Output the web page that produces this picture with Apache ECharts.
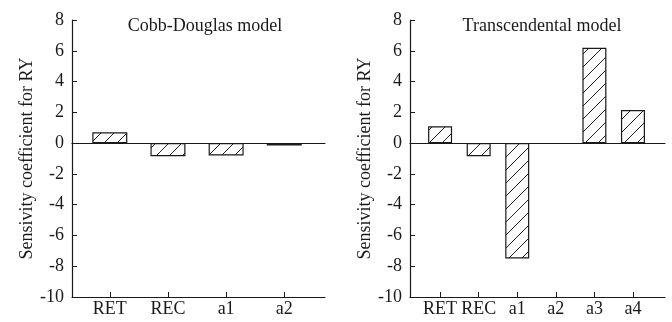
<!DOCTYPE html>
<html><head><meta charset="utf-8">
<script src="https://cdn.jsdelivr.net/npm/echarts@6/dist/echarts.min.js"></script>
<style>html,body{margin:0;padding:0;background:#fff}#c{width:672px;height:322px}</style>
</head><body><div id="c"></div>
<script>
var catsLeft = ['RET', 'REC', 'a1', 'a2'];
var valsLeft = [0.7, -0.85, -0.8, -0.15];
var catsRight = ['RET', 'REC', 'a1', 'a2', 'a3', 'a4'];
var valsRight = [1.1, -0.85, -7.5, -0.05, 6.2, 2.15];
var yTicks = [8, 6, 4, 2, 0, -2, -4, -6, -8, -10];
var titleLeft = 'Cobb-Douglas model';
var titleRight = 'Transcendental model';
var yName = 'Sensivity coefficient for RY';

var FONT = '"Liberation Serif", "DejaVu Serif", serif';
var INK = '#1a1a1a';

function hatch() {
  var s = 13, c = document.createElement('canvas');
  c.width = s; c.height = s;
  var g = c.getContext('2d');
  g.fillStyle = '#fff'; g.fillRect(0, 0, s, s);
  g.strokeStyle = '#222'; g.lineWidth = 1;
  g.beginPath();
  g.moveTo(0, s); g.lineTo(s, 0);
  g.moveTo(-2, 2); g.lineTo(2, -2);
  g.moveTo(s - 2, s + 2); g.lineTo(s + 2, s - 2);
  g.stroke();
  return c;
}
var pat = { image: hatch(), repeat: 'repeat' };

// category positions are 1..n on a value x-axis
function pos(arr) { return arr.map(function (_, i) { return i + 1; }); }

function xAxisFor(gi, cats, mn, mx) {
  return {
    gridIndex: gi, type: 'value', min: mn, max: mx,
    axisLine: { onZero: false, lineStyle: { color: INK, width: 1.2 } },
    axisTick: { inside: true, length: 5, customValues: pos(cats), lineStyle: { color: INK } },
    axisLabel: {
      customValues: pos(cats), color: INK, fontFamily: FONT, fontSize: 18, margin: 3,
      formatter: function (v) { return cats[Math.round(v) - 1]; }
    },
    splitLine: { show: false }
  };
}
// extra x-axis in each grid that lies on y = 0 and draws the zero line
function zeroAxisFor(gi, mn, mx) {
  return {
    gridIndex: gi, type: 'value', min: mn, max: mx, position: 'bottom',
    axisLine: { show: true, onZero: true, lineStyle: { color: INK, width: 1.2 } },
    axisTick: { show: false }, axisLabel: { show: false }, splitLine: { show: false }
  };
}
function yAxisFor(gi) {
  return {
    gridIndex: gi, type: 'value', min: yTicks[yTicks.length - 1], max: yTicks[0], interval: 2,
    name: yName, nameLocation: 'middle', nameGap: 36, nameRotate: 90,
    nameTextStyle: { color: INK, fontFamily: FONT, fontSize: 18 },
    axisLine: { show: true, onZero: false, lineStyle: { color: INK, width: 1.2 } },
    axisTick: { show: true, inside: true, length: 5, lineStyle: { color: INK } },
    axisLabel: { color: INK, fontFamily: FONT, fontSize: 18, margin: 8 },
    splitLine: { show: false }
  };
}
function barSeries(gi, vals, w) {
  return {
    type: 'bar', xAxisIndex: gi, yAxisIndex: gi, barWidth: w,
    data: vals.map(function (v, i) { return [i + 1, v]; }),
    itemStyle: { color: pat, borderColor: INK, borderWidth: 1.2 }
  };
}

var chart = echarts.init(document.getElementById('c'));
chart.setOption({
  backgroundColor: '#fff',
  animation: false,
  title: [
    { text: titleLeft, left: 200, top: 12, textAlign: 'center',
      textStyle: { fontFamily: FONT, fontSize: 18, fontWeight: 'normal', color: INK } },
    { text: titleRight, left: 537, top: 12, textAlign: 'center',
      textStyle: { fontFamily: FONT, fontSize: 18, fontWeight: 'normal', color: INK } }
  ],
  grid: [
    { left: 72, width: 253, top: 20, height: 277 },
    { left: 410, width: 255, top: 20, height: 277 }
  ],
  xAxis: [
    xAxisFor(0, catsLeft, 0.35, 4.7), xAxisFor(1, catsRight, 0.22, 6.83),
    zeroAxisFor(0, 0.35, 4.7), zeroAxisFor(1, 0.22, 6.83)
  ],
  yAxis: [yAxisFor(0), yAxisFor(1)],
  series: [barSeries(0, valsLeft, 35), barSeries(1, valsRight, 24)]
});
</script></body></html>
